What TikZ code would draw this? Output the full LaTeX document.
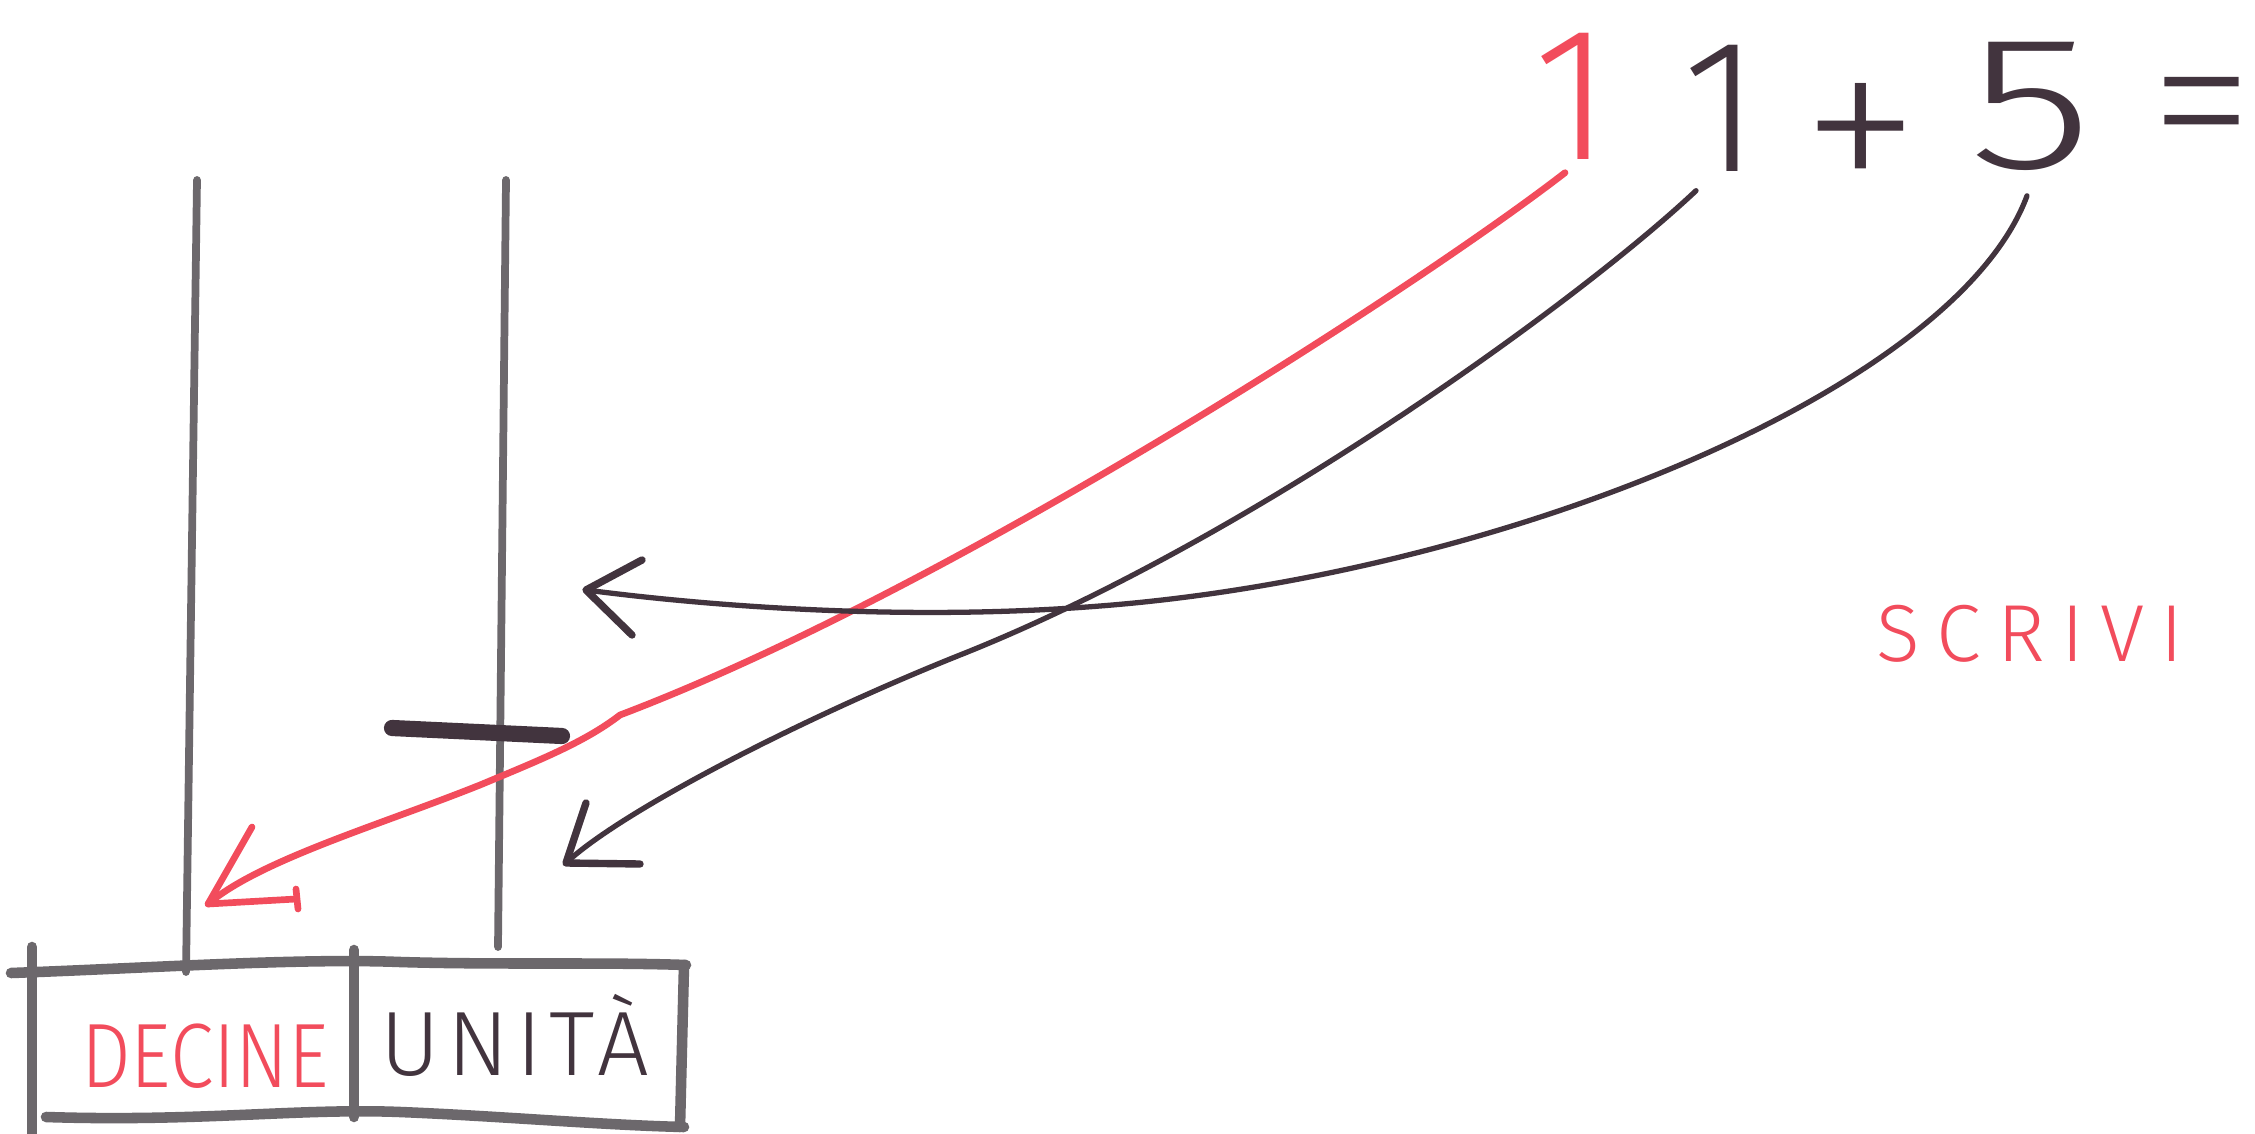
\documentclass[tikz,border=0pt]{standalone}
\usepackage{fontspec}
\setmainfont{Liberation Sans}
\IfFontExistsTF{Fira Sans Light}
  {\newfontfamily\handfont{Fira Sans Light}}
  {\IfFontExistsTF{FiraSans-Light.otf}
    {\newfontfamily\handfont{FiraSans-Light.otf}}
    {\newfontfamily\handfont{Liberation Sans}}}
\IfFontExistsTF{Fira Sans ExtraLight}
  {\newfontfamily\thinfont{Fira Sans ExtraLight}}
  {\IfFontExistsTF{FiraSans-ExtraLight.otf}
    {\newfontfamily\thinfont{FiraSans-ExtraLight.otf}}
    {\let\thinfont\handfont}}
\definecolor{redink}{RGB}{242,76,92}
\definecolor{darkink}{RGB}{66,52,62}
\definecolor{grayink}{RGB}{108,104,108}
\begin{document}
\begin{tikzpicture}[x=0.01cm,y=-0.01cm,
  rod/.style={draw=grayink,line width=2.2pt,line cap=round},
  tableline/.style={draw=grayink,line width=3pt,line cap=round},
  redarrow/.style={draw=redink,line width=1.9pt,line cap=round,line join=round},
  darkarrow/.style={draw=darkink,line width=1.5pt,line cap=round,line join=round},
  barb/.style={line width=2.1pt},
  eqtext/.style={font=\handfont\fontsize{54}{60}\selectfont,inner sep=0pt,anchor=base},
  plusfont/.style={font=\thinfont\fontsize{70}{78}\selectfont,inner sep=0pt,anchor=center},
  eqfont/.style={font=\thinfont\fontsize{64}{72}\selectfont,inner sep=0pt,anchor=center},
  cellfont/.style={font=\handfont\fontsize{26}{30}\selectfont,inner sep=0pt,anchor=base},
  notefont/.style={font=\handfont\fontsize{23}{27}\selectfont,inner sep=0pt}]
\useasboundingbox[fill=white] (0,0) rectangle (2255,1134);

% equation
\node[eqtext,text=redink]  (r1)   at (1573,160) {1};
\node[eqtext,text=darkink] (d1)   at (1722,172) {1};
\node[plusfont,text=darkink] (plus) at (1861,145) {+};
\node[eqtext,text=darkink] (five) at (2031,169) {\addfontfeature{FakeStretch=1.35}5};
\node[eqfont,text=darkink] (eq)   at (2202,126) {\addfontfeature{FakeStretch=0.95}=};

% note
\node[notefont,text=redink] (scrivi) at (2030,634) {\addfontfeature{LetterSpace=20}SCRIVI};

% rods
\coordinate (rodLtop) at (197,180);
\coordinate (rodLbot) at (186,972);
\coordinate (rodRtop) at (506,180);
\coordinate (rodRbot) at (498,947);
\draw[rod] (rodLtop) -- (rodLbot);
\draw[rod] (rodRtop) -- (rodRbot);

% bead on the units rod
\draw[darkink,line width=4.6pt,line cap=round] (392,728) -- (562,736);

% table
\draw[tableline] (11,973) .. controls (150,968) and (300,958) .. (400,962) .. controls (500,965) and (600,962) .. (686,965);
\draw[tableline] (32,947) -- (32,1134);
\draw[tableline] (354,950) -- (354,1117);
\draw[tableline] (684,965) -- (680,1127);
\draw[tableline] (46,1117) .. controls (200,1122) and (300,1108) .. (400,1112) .. controls (500,1116) and (600,1125) .. (684,1127);
\node[cellfont,text=redink] (dec) at (205,1087) {\addfontfeature{FakeStretch=0.86}DECINE};
\node[cellfont,text=darkink] (uni) at (515,1075) {\addfontfeature{LetterSpace=8}UNITÀ};

% arrow tips
\coordinate (tipR) at (208,904);
\coordinate (tipU) at (566,863);
\coordinate (tipM) at (586,590);

% red arrow: tens
\draw[redarrow] ([shift={(-8,12)}]r1.south) .. controls (1420,285) and (950,590) .. (620,715)
  .. controls (585,742) and (540,760) .. (480,785) .. controls (380,825) and (260,860) .. (tipR);
\draw[redarrow] (252,827) -- (tipR) -- (296,899);
\draw[redarrow] (296,889) -- (298,909);

% dark arrow: units of 11
\draw[darkarrow] ([shift={(-26,18)}]d1.south) .. controls (1580,300) and (1250,540) .. (960,655)
  .. controls (800,719) and (620,812) .. (tipU);
\draw[darkarrow,barb] (586,803) -- (tipU) -- (640,864);

% dark arrow: 5
\draw[darkarrow] ([shift={(-4,24)}]five.south) .. controls (1955,390) and (1500,575) .. (1100,606)
  .. controls (900,622) and (700,605) .. (tipM);
\draw[darkarrow,barb] (642,560) -- (tipM) -- (632,635);
\end{tikzpicture}
\end{document}
